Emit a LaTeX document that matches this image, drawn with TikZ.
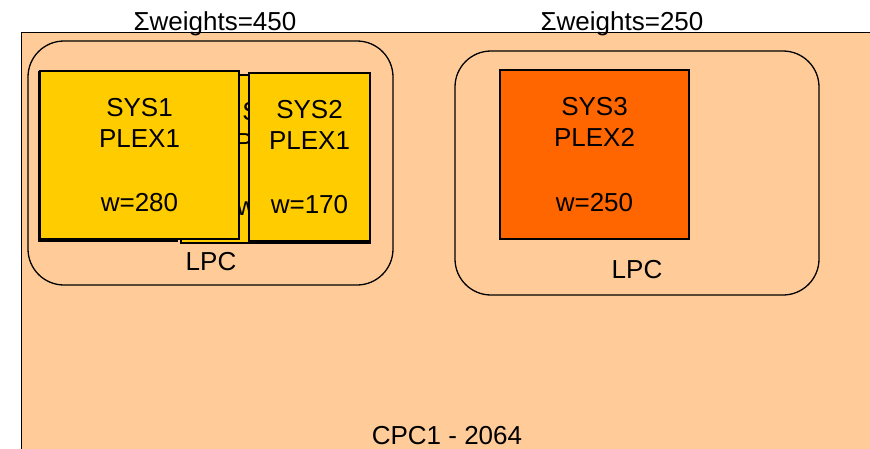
\documentclass[tikz,border=0pt]{standalone}
\usepackage{fontspec}
\setmainfont{Liberation Sans}
\definecolor{cpcfill}{HTML}{FFCC99}
\definecolor{plexone}{HTML}{FFCC00}
\definecolor{plextwo}{HTML}{FF6600}
\begin{document}
\begin{tikzpicture}[x=1pt,y=-1pt,
  txt/.style={font=\fontsize{26}{31}\selectfont, inner sep=0pt},
  sysbox/.style={draw, line width=1.3pt, inner sep=0pt, align=center,
    font=\fontsize{26}{31}\selectfont},
  lpcbox/.style={draw, line width=1.3pt, rounded corners=36pt, fill=cpcfill}]
  \useasboundingbox (0,0) rectangle (870,448);
  \clip (0,0) rectangle (870,448);
  % CPC frame (runs past the right and bottom edges)
  \draw[line width=1pt, fill=cpcfill] (21,32) rectangle (900,480);
  % logical partition containers
  \draw[lpcbox] (28,41) rectangle (393,285);
  \draw[lpcbox] (455,51) rectangle (819,295);
  % stacked system boxes of PLEX1
  \node[sysbox, fill=plexone, minimum width=138, minimum height=169] (hidA) at (108,156.5) {};
  \node[sysbox, fill=plexone, minimum width=189, minimum height=168] (hidB) at (275.5,159) {SYS2\\PLEX1\\[33pt]w=170};
  \node[sysbox, fill=plexone, minimum width=199, minimum height=168] (sys1) at (139.5,155) {SYS1\\PLEX1\\[33pt]w=280};
  \node[sysbox, fill=plexone, minimum width=121, minimum height=168] (sys2) at (309.5,157) {SYS2\\PLEX1\\[33pt]w=170};
  % system of PLEX2
  \node[sysbox, fill=plextwo, minimum width=189, minimum height=169] (sys3) at (594.5,154.5) {SYS3\\PLEX2\\[34pt]w=250};
  % labels
  \node[txt, anchor=base] (lpcA) at (211,270) {LPC};
  \node[txt, anchor=base] (lpcB) at (637,278) {LPC};
  \node[txt, anchor=base] (sumA) at (215,30) {Σweights=450};
  \node[txt, anchor=base] (sumB) at (622,30) {Σweights=250};
  \node[txt, anchor=base] (cpc) at (447,444) {CPC1 - 2064};
\end{tikzpicture}
\end{document}
